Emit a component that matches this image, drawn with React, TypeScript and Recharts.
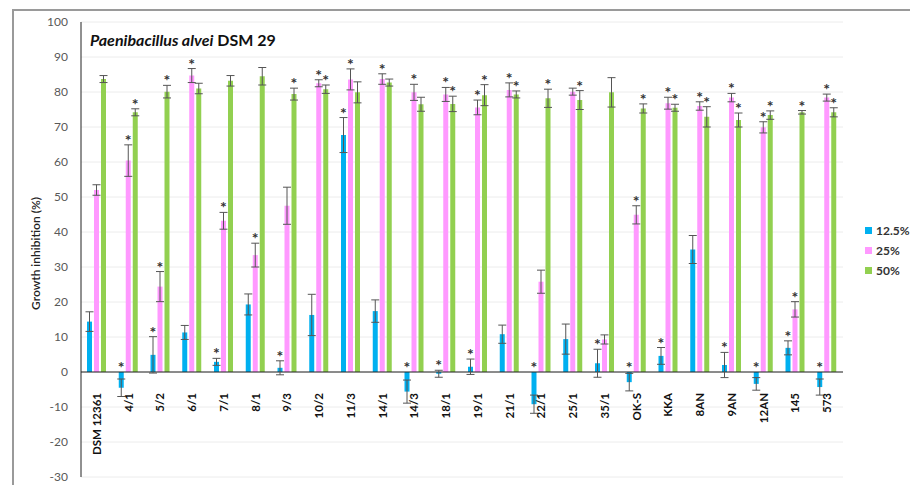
import { Bar, BarChart, CartesianGrid, ErrorBar, LabelList, ReferenceLine, XAxis, YAxis } from 'recharts'

const strains = ['DSM 12361', '4/1', '5/2', '6/1', '7/1', '8/1', '9/3', '10/2', '11/3', '14/1', '14/3', '18/1',
    '19/1', '21/1', '22/1', '25/1', '35/1', 'OK-S', 'KKA', '8AN', '9AN', '12AN', '145', '573']

// 12.5%
const low = [14.4, -4.5, 4.9, 11.3, 2.9, 19.3, 1.2, 16.3, 67.7, 17.4, -5.6, -0.5, 1.5, 10.8, -9.2, 9.4, 2.5, -2.9, 4.6, 35, 2, -3.4, 6.9, -4.3]
const lowErr = [2.8, 2.5, 5.2, 2, 1, 3, 2, 5.9, 5, 3.2, 3.3, 1, 2.2, 2.6, 2.6, 4.3, 4, 2.5, 2.4, 4, 3.6, 1.8, 2, 2.3]
const lowSig = [0, 1, 1, 0, 1, 0, 1, 0, 1, 0, 1, 1, 1, 0, 1, 0, 1, 1, 1, 0, 1, 1, 1, 1]

// 25%
const mid = [52, 60.4, 24.4, 84.7, 43.2, 33.4, 47.5, 82.5, 83.6, 83.7, 79.9, 79.3, 75.6, 80.6, 25.8, 80.1, 9.3, 44.9, 76.8, 76, 78.4, 69.9, 17.9, 78.4]
const midErr = [1.5, 4.5, 4.3, 2, 2.4, 3.4, 5.3, 1, 3, 1.5, 2.3, 2, 2.1, 2, 3.3, 1, 1.3, 2.6, 1.7, 1.2, 1.2, 1.6, 2.2, 1]
const midSig = [0, 1, 1, 1, 1, 1, 0, 1, 1, 1, 1, 1, 1, 1, 0, 0, 0, 1, 1, 1, 1, 1, 1, 1]

// 50%
const high = [83.7, 74.2, 80.1, 81, 83.2, 84.5, 79.4, 80.8, 79.9, 82.7, 76.5, 76.6, 79.1, 79.3, 78.2, 77.7, 79.9, 75.3, 75.5, 72.9, 72, 73.4, 74.2, 74.2]
const highErr = [1, 1, 1.8, 1.5, 1.5, 2.5, 1.7, 1.2, 3, 1, 2, 2.2, 3, 1, 2.6, 2.7, 4.2, 1.3, 1, 2.9, 2, 1.2, 0.5, 1.3]
const highSig = [0, 1, 1, 0, 0, 0, 1, 1, 0, 0, 0, 1, 1, 1, 1, 1, 0, 1, 1, 1, 1, 1, 1, 1]

const yTicks = [-30, -20, -10, 0, 10, 20, 30, 40, 50, 60, 70, 80, 90, 100]

const series = [
    { key: 'low', label: '12.5%', color: '#00B0F0' },
    { key: 'mid', label: '25%', color: '#FF99FF' },
    { key: 'high', label: '50%', color: '#92D050' },
]

const data = strains.map((name, i) => ({
    name,
    low: low[i], lowErr: lowErr[i],
    mid: mid[i], midErr: midErr[i],
    high: high[i], highErr: highErr[i],
}))

const W = 836
const H = 476
const TOP = 14
const BOTTOM = 6
const X_AXIS_H = 1
const PLOT_H = H - TOP - BOTTOM - X_AXIS_H
const PX = PLOT_H / 130
const ZERO_Y = TOP + 100 * PX

const star = (vals: number[], errs: number[], sig: number[]) => (props: any) => {
    const { x, width, index } = props
    if (!sig[index]) return null
    const top = Math.max(0, vals[index] + errs[index])
    return (
        <text x={Number(x) + Number(width) / 2} y={ZERO_Y - top * PX + 1} textAnchor="middle" fontSize={16} fontWeight="bold" fill="#333">
            *
        </text>
    )
}

const StrainTick = ({ x, payload }: any) => (
    <text
        x={x + 4}
        y={ZERO_Y + 21}
        transform={`rotate(-90, ${x + 4}, ${ZERO_Y + 21})`}
        textAnchor="end"
        fontSize={11.5}
        fontWeight="bold"
        fill="#111"
    >
        {payload.value}
    </text>
)

const App = () => {
    return (
        <div style={{ position: 'relative', width: 910, height: 485, fontFamily: 'Lato, sans-serif', overflow: 'hidden' }}>
            <style>{'html, body { margin: 0; overflow: hidden; }'}</style>
            <div style={{ position: 'absolute', left: 12, top: 9, width: 900, height: 480, borderLeft: '2px solid #9a9a9a', borderTop: '2px solid #9a9a9a' }} />
            <div style={{ position: 'absolute', left: 8, top: 8 }}>
                <BarChart width={W} height={H} data={data} margin={{ top: TOP, right: 1, bottom: BOTTOM, left: 0 }} barSize={5} barGap={2}>
                    <CartesianGrid vertical={false} stroke="#ececec" />
                    <XAxis dataKey="name" height={X_AXIS_H} axisLine={false} tickLine={false} interval={0} tick={<StrainTick />} />
                    <YAxis
                        width={73}
                        domain={[-30, 100]}
                        ticks={yTicks}
                        interval={0}
                        tickSize={0}
                        tickMargin={13}
                        axisLine={{ stroke: '#222' }}
                        tick={{ fontSize: 12, fill: '#595959' }}
                        label={{ value: 'Growth inhibition (%)', angle: -90, position: 'center', dx: -9, dy: 4, fontSize: 12, fontWeight: 600, fill: '#222' }}
                    />
                    <ReferenceLine y={0} stroke="#222" strokeWidth={1} />
                    <Bar dataKey="low" fill="#00B0F0" isAnimationActive={false}>
                        <ErrorBar dataKey="lowErr" width={4} stroke="#555" strokeWidth={1} direction="y" />
                        <LabelList dataKey="low" content={star(low, lowErr, lowSig)} />
                    </Bar>
                    <Bar dataKey="mid" fill="#FF99FF" isAnimationActive={false}>
                        <ErrorBar dataKey="midErr" width={4} stroke="#555" strokeWidth={1} direction="y" />
                        <LabelList dataKey="mid" content={star(mid, midErr, midSig)} />
                    </Bar>
                    <Bar dataKey="high" fill="#92D050" isAnimationActive={false}>
                        <ErrorBar dataKey="highErr" width={4} stroke="#555" strokeWidth={1} direction="y" />
                        <LabelList dataKey="high" content={star(high, highErr, highSig)} />
                    </Bar>
                </BarChart>
            </div>
            <div style={{ position: 'absolute', left: 90, top: 31, fontSize: 16, fontWeight: 'bold', color: '#111', lineHeight: '18px', whiteSpace: 'nowrap' }}>
                <i>Paenibacillus alvei</i> DSM 29
            </div>
            <div style={{ position: 'absolute', left: 865, top: 220, fontSize: 12, fontWeight: 'bold', color: '#333', whiteSpace: 'nowrap' }}>
                {series.map(s => (
                    <div key={s.key} style={{ display: 'flex', alignItems: 'center', height: 20 }}>
                        <span style={{ width: 7, height: 7, background: s.color, marginRight: 4, display: 'inline-block' }} />
                        {s.label}
                    </div>
                ))}
            </div>
        </div>
    )
}

export default App
